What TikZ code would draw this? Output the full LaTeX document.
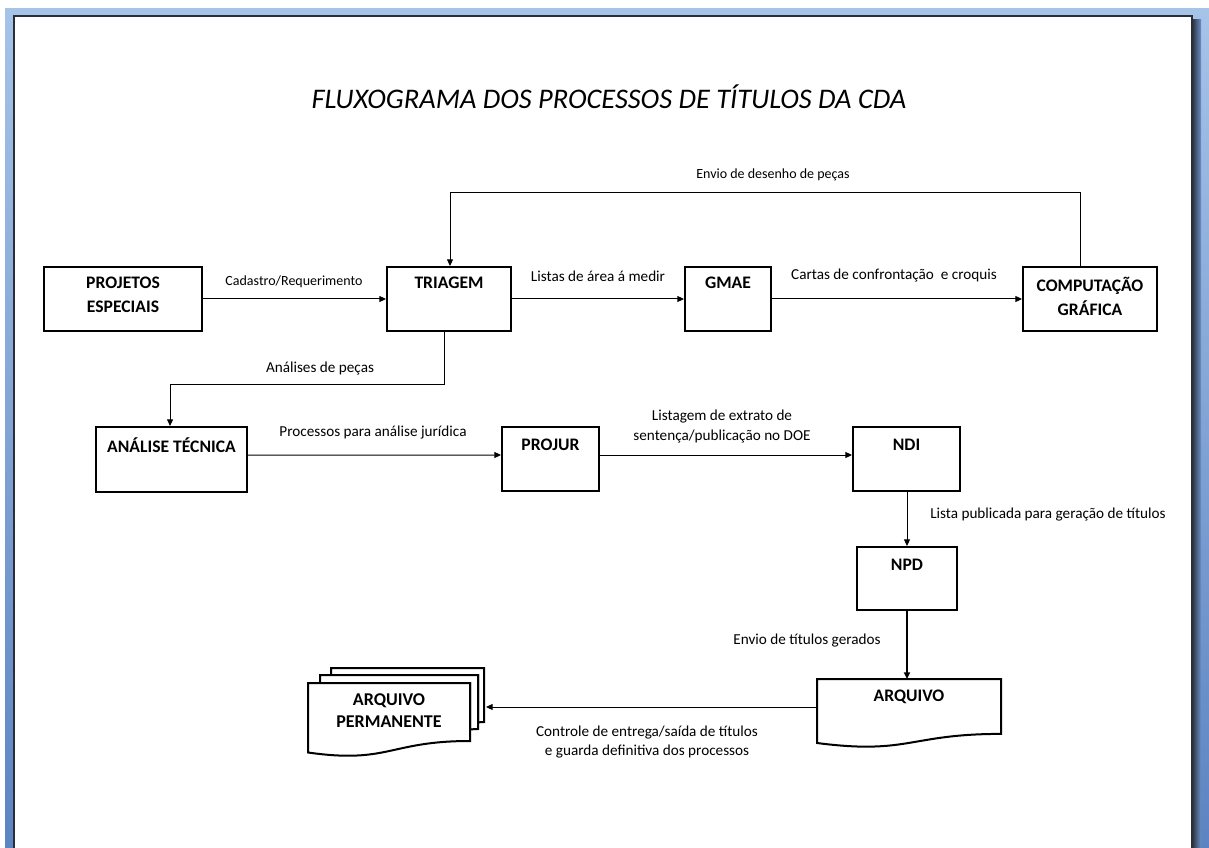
\documentclass[tikz,border=0pt]{standalone}
\usepackage{fontspec}
\setmainfont{Carlito}
\usetikzlibrary{arrows.meta}
\definecolor{bluetop}{HTML}{A6C3E8}
\definecolor{bluebot}{HTML}{5C84C2}
\definecolor{pageedge}{HTML}{2A2E36}
\tikzset{
  box/.style={draw=black, line width=1.5pt, fill=white, inner sep=0pt},
  boxtxt/.style={font=\fontsize{13.2}{18}\selectfont\bfseries, align=center, inner sep=0pt},
  lbl/.style={font=\fontsize{11.4}{15}\selectfont, align=center, inner sep=0pt},
  smalllbl/.style={font=\fontsize{10.5}{15}\selectfont, align=center, inner sep=0pt},
  conn/.style={line width=0.75pt, -{Triangle[length=5pt,width=4.5pt]}},
  thickconn/.style={line width=1.5pt, -{Triangle[length=5pt,width=4.5pt]}},
  sheet/.style={draw=black, line width=1.5pt, fill=white, line join=miter},
}
\begin{document}
\begin{tikzpicture}[x=0.75pt,y=-0.75pt]
\useasboundingbox (0,0) rectangle (1209,848);
% window frame
\fill[white] (0,0) rectangle (1209,848);
\shade[top color=bluetop, bottom color=bluebot] (5,9) rectangle (1209,848);
\shade[left color=pageedge, right color=bluebot!80!bluetop] (1192,20) rectangle (1201,848);
\fill[white] (14,16) rectangle (1192,848);
\draw[pageedge, line width=1.5pt] (14,848) -- (14,16) -- (1192,16) -- (1192,848);

% title
\node[font=\fontsize{21.3}{26}\selectfont\itshape, inner sep=0pt] (title) at (609,97) {FLUXOGRAMA DOS PROCESSOS DE TÍTULOS DA CDA};

% boxes
\node[box, minimum width=118.5pt, minimum height=48pt] (proj) at (123,299) {};
\node[box, minimum width=93pt, minimum height=48pt] (tri) at (449,299) {};
\node[box, minimum width=64.5pt, minimum height=48pt] (gmae) at (728,299) {};
\node[box, minimum width=100.5pt, minimum height=48pt] (comp) at (1090,299) {};
\node[box, minimum width=113.25pt, minimum height=48.75pt] (ana) at (171.5,459.5) {};
\node[box, minimum width=72.75pt, minimum height=48pt] (projur) at (550.5,459) {};
\node[box, minimum width=80.25pt, minimum height=48pt] (ndi) at (906.5,459) {};
\node[box, minimum width=75pt, minimum height=47.25pt] (npd) at (907,578.5) {};

\node[boxtxt] (projt) at (123,295) {PROJETOS\\ESPECIAIS};
\node[boxtxt] (trit) at (449,283) {TRIAGEM};
\node[boxtxt] (gmaet) at (728,283) {GMAE};
\node[boxtxt] (compt) at (1090,296) {COMPUTAÇÃO\\GRÁFICA};
\node[boxtxt] (anat) at (171.5,445) {ANÁLISE TÉCNICA};
\node[boxtxt] (projurt) at (550.5,445) {PROJUR};
\node[boxtxt] (ndit) at (906.5,445) {NDI};
\node[boxtxt] (npdt) at (907,565) {NPD};

% ARQUIVO document shape
\draw[sheet] (817,679) -- (1001,679) -- (1001,733.9)
  .. controls (909,733.9) and (909,754.9) .. (817,743) -- cycle;
\coordinate (arqtop) at (907,679);
\coordinate (arqleft) at (817,707);
\node[boxtxt] (arq) at (909,697) {ARQUIVO};

% ARQUIVO PERMANENTE multi-document
\draw[sheet] (331,675) -- (331,668) -- (484,668) -- (484,722)
  .. controls (481,722) and (478,722.5) .. (478,722.5) -- (478,675) -- cycle;
\draw[sheet] (320,683) -- (320,675) -- (478,675) -- (478,729)
  .. controls (475,729) and (470,729.5) .. (470,729.5) -- (470,683) -- cycle;
\draw[sheet] (308,752.5) .. controls (389,764) and (389,741) .. (470,741)
  -- (470,683) -- (308,683) -- cycle;
\coordinate (arqpright) at (486,707);
\node[boxtxt, font=\fontsize{13.5}{16.5}\selectfont\bfseries] (arqp) at (389,711) {ARQUIVO\\PERMANENTE};

% connectors
\draw[conn] (proj.east) -- (tri.west);
\draw[conn] (tri.east) -- (gmae.west);
\draw[conn] (gmae.east) -- (comp.west);
\draw[conn] ([xshift=-7.5pt]comp.north) -- ++(0,-73) -| ([xshift=0.75pt]tri.north);
\draw[conn] ([xshift=-3.75pt]tri.south) -- ++(0,52) -| ([xshift=-1.1pt]ana.north);
\draw[conn] ([yshift=3.3pt]ana.east) -- ([yshift=3pt]projur.west);
\draw[conn] ([yshift=3pt]projur.east) -- ([yshift=3pt]ndi.west);
\draw[conn] (npd.north |- ndi.south) -- (npd.north);
\draw[thickconn] (npd.south) -- (arqtop);
\draw[conn] (arqleft) -- (arqpright);

% labels
\node[smalllbl] (l1) at (773,175) {Envio de desenho de peças};
\node[smalllbl] (l2) at (294,282) {Cadastro/Requerimento};
\node[lbl] (l3) at (598,276) {Listas de área á medir};
\node[lbl] (l4) at (894,276) {Cartas de confrontação~ e croquis};
\node[lbl] (l5) at (320,368) {Análises de peças};
\node[lbl] (l6) at (373,433) {Processos para análise jurídica};
\node[lbl] (l7) at (722,426) {Listagem de extrato de\\sentença/publicação no DOE};
\node[lbl, anchor=west] (l8) at (930,515) {Lista publicada para geração de títulos};
\node[lbl] (l9) at (807,641) {Envio de títulos gerados};
\node[lbl, font=\fontsize{11.4}{13.8}\selectfont] (l10) at (647,742) {Controle de entrega/saída de títulos\\e guarda definitiva dos processos};
\end{tikzpicture}
\end{document}
